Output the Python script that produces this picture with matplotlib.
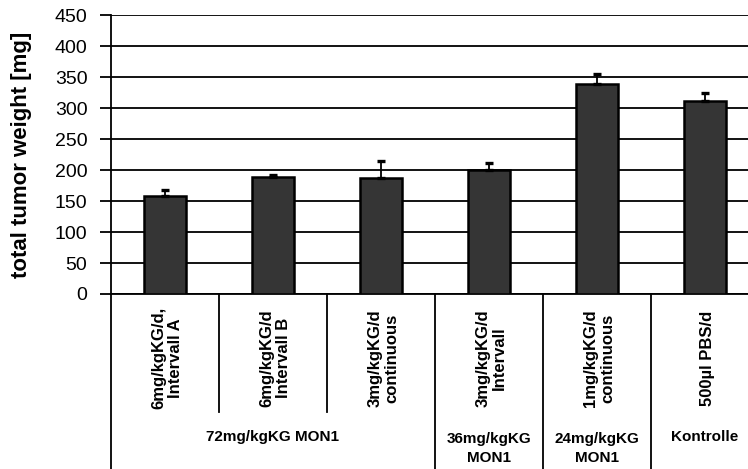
import matplotlib
matplotlib.use("Agg")
import matplotlib.pyplot as plt
import matplotlib.transforms as mtransforms
import numpy as np

# ---- data ----
categories = ["6mg/kgKG/d,\nIntervall A", "6mg/kgKG/d\nIntervall B", "3mg/kgKG/d\ncontinuous",
              "3mg/kgKG/d\nIntervall", "1mg/kgKG/d\ncontinuous", "500µl PBS/d"]
values = [158, 189, 187, 200, 339, 312]
errors = [10, 3, 27, 11, 16, 13]
groups = ["72mg/kgKG MON1", "36mg/kgKG\nMON1", "24mg/kgKG\nMON1", "Kontrolle"]
group_spans = [(0, 2), (3, 3), (4, 4), (5, 5)]
yticks = [0, 50, 100, 150, 200, 250, 300, 350, 400, 450]
ylabel = "total tumor weight [mg]"

plt.rcParams['font.family'] = ['Liberation Sans', 'DejaVu Sans']

W, H = 748, 469
fig = plt.figure(figsize=(W / 100, H / 100), dpi=100)
x0, x1 = 111, 759
y0, y1 = 294, 15
ax = fig.add_axes([x0 / W, (H - y0) / H, (x1 - x0) / W, (y0 - y1) / H])

x = np.arange(len(categories))
ax.bar(x, values, width=0.39, color='#353535', edgecolor='black', linewidth=1.8, zorder=3)
ax.errorbar(x, values, yerr=[np.zeros(len(errors)), errors], fmt='none', ecolor='black',
            elinewidth=1.3, capsize=3, capthick=2.4, zorder=4)

ax.set_xlim(-0.5, len(categories) - 0.5)
ax.set_ylim(0, 450)
ax.set_yticks(yticks)
ax.set_yticklabels([str(t) for t in yticks], fontsize=14)
ax.tick_params(axis='y', length=8, width=1.3, direction='out', pad=9, color='black')
ax.set_xticks([])
ax.yaxis.grid(True, color='black', linewidth=1.3)
ax.set_axisbelow(True)
for s in ['top', 'right']:
    ax.spines[s].set_visible(False)
ax.spines['left'].set_linewidth(1.3)
ax.spines['bottom'].set_linewidth(1.3)

ax.set_ylabel(ylabel, fontsize=16, fontweight='bold')
ax.yaxis.set_label_coords(-(x0 - 32) / (x1 - x0), 0.5)

trans = mtransforms.blended_transform_factory(ax.transData, ax.transAxes)
ph = y0 - y1  # axes height in px


def afrac(ypix):
    return -(ypix - y0) / ph


# category labels
for i, lab in enumerate(categories):
    ax.text(i + 0.02, afrac(358), lab, transform=trans, rotation=90, ha='center', va='center',
            multialignment='center', fontsize=12, fontweight='bold', linespacing=1.15)

# divider lines
bottom_full = afrac(475)
ax.plot([-0.5, -0.5], [0, bottom_full], transform=trans, color='black', lw=1.3, clip_on=False)
for xb in [0.5, 1.5]:
    ax.plot([xb, xb], [0, afrac(412)], transform=trans, color='black', lw=1.3, clip_on=False)
for xb in [2.5, 3.5, 4.5]:
    ax.plot([xb, xb], [0, bottom_full], transform=trans, color='black', lw=1.3, clip_on=False)

# group labels
for g, (a, b) in zip(groups, group_spans):
    yc = 448.5 if "\n" in g else 437
    ax.text((a + b) / 2, afrac(yc), g, transform=trans, ha='center', va='center',
            multialignment='center', fontsize=11, fontweight='bold', linespacing=1.45)

fig.savefig("out.png", dpi=100)
